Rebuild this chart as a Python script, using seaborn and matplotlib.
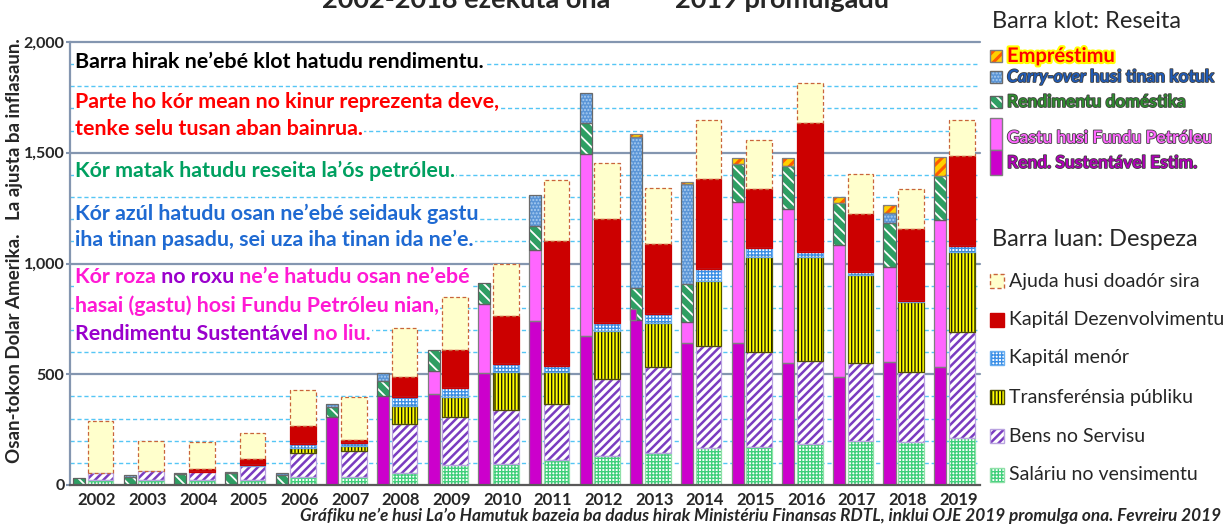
import numpy as np
import pandas as pd
import seaborn as sns
import matplotlib.pyplot as plt
import matplotlib.patheffects as pe
from matplotlib import transforms
from matplotlib.patches import Rectangle

years = list(range(2002, 2020))

# Receipts (narrow bars), US$ million
esi = [0, 0, 0, 0, 0, 307, 402, 411, 506, 740, 673, 795, 641, 641, 551, 488, 555, 533]
pf_withdrawal = [0, 0, 0, 0, 0, 307, 402, 515, 817, 1061, 1494, 745, 736, 1278, 1246, 1084, 986, 1196]
domestic = [30, 36, 50, 54, 45, 45, 68, 94, 95, 109, 140, 144, 171, 171, 195, 189, 199, 199]
carryover = [0, 8, 4, 5, 9, 14, 36, 0, 0, 139, 136, 682, 450, 0, 0, 0, 45, 0]
loans = [0, 0, 0, 0, 0, 0, 0, 0, 0, 0, 0, 14, 11, 27, 35, 28, 32, 86]

# Expenditure (wide bars)
salary = [22, 22, 22, 22, 36, 36, 54, 90, 95, 113, 131, 144, 167, 172, 185, 199, 195, 212]
goods = [33, 41, 38, 64, 108, 117, 221, 217, 244, 253, 348, 389, 461, 429, 375, 352, 315, 479]
transfers = [0, 0, 0, 0, 23, 23, 82, 90, 171, 144, 216, 198, 291, 429, 470, 397, 316, 361]
minor_cap = [0, 0, 0, 6, 18, 14, 41, 41, 36, 27, 38, 40, 56, 40, 22, 14, 4, 27]
dev_cap = [0, 0, 12, 25, 81, 13, 90, 171, 217, 565, 468, 317, 407, 266, 582, 261, 327, 406]
donors = [235, 136, 122, 118, 163, 194, 221, 240, 235, 275, 253, 253, 266, 223, 181, 180, 178, 163]

yticks = [0, 500, 1000, 1500, 2000]
ytick_labels = ['0', '500', '1,000', '1,500', '2,000']

W, H = 1226, 528
sns.set_theme(style='white')
plt.rcParams['font.family'] = ['Lato', 'DejaVu Sans']
plt.rcParams['hatch.linewidth'] = 1.0

fig = plt.figure(figsize=(W / 100, H / 100), dpi=100)
ax = fig.add_axes([70 / W, 43 / H, 910 / W, 443 / H])

# styles: face, hatch, hatch colour, edge colour, edge style, hatch width
styles = {
    'esi': ('#cc00cc', None, None, '#7f7f7f', '-', 1),
    'pink': ('#ff66ff', None, None, '#7f7f7f', '-', 1),
    'dom': ('#2e9e63', '\\\\\\', 'white', '#606060', '-', 1.3),
    'carry': ('#5b95d6', '.....', '#a9cdf2', '#6a6a6a', '-', 1),
    'loan': ('#ffd000', '///', '#ff5a00', '#7f7f7f', '-', 2.2),
    'salary': ('white', '+++++', '#3fcf7a', '#8fe0a8', '-', 1),
    'goods': ('white', '////', '#7a3cc0', '#b9a3e0', '-', 1.8),
    'transfer': ('#ffff00', '|||||', '#222200', '#505000', '-', 1),
    'minor': ('white', '+++++', '#3a8ee6', '#6aaef0', '-', 1),
    'dev': ('#cc0000', None, None, '#cc0000', '-', 1),
    'donor': ('#ffffcc', None, None, '#c8643c', (0, (3, 2)), 1),
}


def set_hlw(patches, lw):
    for p in patches:
        if hasattr(p, 'set_hatch_linewidth'):
            p.set_hatch_linewidth(lw)


def seg(x, h, b, w, key, z=2):
    face, hatch, hcol, edge, ls, hlw = styles[key]
    x, h, b = np.asarray(x), np.asarray(h, float), np.asarray(b, float)
    m = h > 0
    if not m.any():
        return
    bars = ax.bar(x[m], h[m], w, bottom=b[m], color=face, hatch=hatch,
                  edgecolor=hcol if hatch else 'none', linewidth=0, zorder=z, align='center')
    set_hlw(bars, hlw)
    ax.bar(x[m], h[m], w, bottom=b[m], fill=False, edgecolor=edge,
           linewidth=0.9, linestyle=ls, zorder=z + 0.1)


pos = np.arange(len(years))
xr = pos - 0.355
xe = pos + 0.07
wr, we = 0.24, 0.51

esi_a = np.array(esi, float)
pf_a = np.array(pf_withdrawal, float)
low = np.minimum(esi_a, pf_a)
seg(xr, low, 0 * low, wr, 'esi')
seg(xr, pf_a - low, low, wr, 'pink')
b = pf_a.copy()
seg(xr, domestic, b, wr, 'dom')
b += domestic
seg(xr, carryover, b, wr, 'carry')
b += carryover
seg(xr, loans, b, wr, 'loan')
# where the sustainable income is above the actual withdrawal
extra = np.maximum(esi_a - pf_a, 0)
seg(xr - wr / 4, extra, pf_a, wr / 2, 'esi', z=3)

df = pd.DataFrame({'salary': salary, 'goods': goods, 'transfer': transfers,
                   'minor': minor_cap, 'dev': dev_cap, 'donor': donors})
bottoms = df.cumsum(axis=1) - df
for col in df.columns:
    seg(xe, df[col].values, bottoms[col].values, we, col)

# gridlines
for v in range(100, 2001, 100):
    if v % 500 == 0:
        ax.axhline(v, color='#8496b0', lw=1.6, zorder=0.5, clip_on=False)
    else:
        ax.axhline(v, color='#55c6f5', lw=1.0, ls=(0, (3, 2)), zorder=0.5)

ax.set_xlim(-0.533, 17.43)
ax.set_ylim(0, 2000)
ax.set_yticks(yticks)
ax.set_yticklabels(ytick_labels, fontweight='bold', fontsize=11.5)
ax.set_xticks(pos)
ax.set_xticklabels(years, fontweight='bold', fontsize=12)
ax.tick_params(axis='y', direction='out', length=3, width=1.5, color='#8496b0', pad=1, left=True)
ax.tick_params(axis='x', length=0, pad=5)
sns.despine(ax=ax, top=True, right=True)
ax.spines['left'].set_color('#8496b0')
ax.spines['left'].set_linewidth(1.6)
ax.spines['bottom'].set_color('#595959')
ax.spines['bottom'].set_linewidth(1.6)


def fx(px):
    return px / W


def fy(py):
    return 1 - py / H


renderer = fig.canvas.get_renderer()


def multi_text(x, y, parts, **kw):
    tr = fig.transFigure
    for s, c, st in parts:
        t = fig.text(x, y, s, color=c, style=st, transform=tr, **kw)
        ex = t.get_window_extent(renderer=renderer)
        tr = transforms.offset_copy(t.get_transform(), x=ex.width, units='dots')


fig.text(fx(15), fy(251), 'Osan-tokon Dolar Amerika.   La ajusta ba inflasaun.',
         rotation=90, fontweight='bold', fontsize=13.5, ha='center', va='center')

# title (cut off at the top in the original)
fig.text(fx(322), fy(8), '2002-2018 ezekuta ona', fontsize=19.5, fontweight='bold', va='baseline')
fig.text(fx(675), fy(8), '2019 promulgadu', fontsize=19.5, fontweight='bold', va='baseline')

# notes in the plot
box = dict(facecolor='white', edgecolor='none', pad=1)
note = dict(fontsize=15.4, fontweight='bold', va='baseline', bbox=box, zorder=5)
fig.text(fx(75), fy(68), 'Barra hirak ne’ebé klot hatudu rendimentu.', color='black', **note)
fig.text(fx(75), fy(108), 'Parte ho kór mean no kinur reprezenta deve,', color='#ff0000', **note)
fig.text(fx(75), fy(135), 'tenke selu tusan aban bainrua.', color='#ff0000', **note)
fig.text(fx(75), fy(177), 'Kór matak hatudu reseita la’ós petróleu.', color='#00a060', **note)
fig.text(fx(75), fy(220), 'Kór azúl hatudu osan ne’ebé seidauk gastu', color='#1f6ad2', **note)
fig.text(fx(75), fy(246), 'iha tinan pasadu, sei uza iha tinan ida ne’e.', color='#1f6ad2', **note)
multi_text(fx(75), fy(283), [('Kór roza', '#ff19d4', 'normal'), (' no roxu', '#9a00cc', 'normal'),
                             (' ne’e hatudu osan ne’ebé', '#ff19d4', 'normal')], **note)
fig.text(fx(75), fy(312), 'hasai (gastu) hosi Fundu Petróleu nian,', color='#ff19d4', **note)
multi_text(fx(75), fy(340), [('Rendimentu Sustentável', '#9a00cc', 'normal'),
                             (' no liu.', '#ff19d4', 'normal')], **note)

# legend
fig.text(fx(992), fy(22), 'Barra klot: Reseita', fontsize=17, va='center')
fig.text(fx(992), fy(240), 'Barra luan: Despeza', fontsize=17, va='center')


def icon(px, py, w, h, key):
    face, hatch, hcol, edge, ls, hlw = styles[key]
    r = fig.add_artist(Rectangle((fx(px), fy(py + h)), w / W, h / H, facecolor=face, hatch=hatch,
                                 edgecolor=hcol if hatch else 'none', linewidth=0,
                                 transform=fig.transFigure))
    set_hlw([r], hlw)
    fig.add_artist(Rectangle((fx(px), fy(py + h)), w / W, h / H, fill=False, edgecolor=edge,
                             linewidth=1.0, linestyle=ls, transform=fig.transFigure))


thin = [pe.withStroke(linewidth=1.2, foreground='#404040')]
rec = dict(fontsize=12.5, fontweight='bold', va='center')
icon(990, 50, 12, 12, 'loan')
fig.text(fx(1007), fy(56), 'Empréstimu', color='#ff0000', fontsize=14.5, fontweight='bold', va='center',
         path_effects=[pe.withStroke(linewidth=3, foreground='#ffff00')])
icon(990, 71, 12, 12, 'carry')
multi_text(fx(1007), fy(77), [('Carry-over', '#1f5bb8', 'italic'), (' husi tinan kotuk', '#1f5bb8', 'normal')],
           path_effects=thin, **rec)
icon(990, 96, 12, 12, 'dom')
fig.text(fx(1007), fy(102), 'Rendimentu doméstika', color='#2e8b2e', path_effects=thin, **rec)
icon(990, 118, 12, 32, 'pink')
icon(990, 150, 12, 25, 'esi')
fig.text(fx(1007), fy(138), 'Gastu husi Fundu Petróleu', color='#ff66ff', path_effects=thin, **rec)
fig.text(fx(1007), fy(163), 'Rend. Sustentável Estim.', color='#b000b8', path_effects=thin, **rec)

exp_items = [('donor', 'Ajuda husi doadór sira', 281), ('dev', 'Kapitál Dezenvolvimentu', 320),
             ('minor', 'Kapitál menór', 358), ('transfer', 'Transferénsia públiku', 397),
             ('goods', 'Bens no Servisu', 436), ('salary', 'Saláriu no vensimentu', 475)]
for key, label, cy in exp_items:
    icon(990, cy - 7, 14, 14, key)
    fig.text(fx(1009), fy(cy), label, fontsize=14, va='center')

fig.text(fx(1221), fy(521),
         'Gráfiku ne’e husi La’o Hamutuk bazeia ba dadus hirak Ministériu Finansas RDTL, '
         'inklui OJE 2019 promulga ona. Fevreiru 2019',
         fontsize=12.4, fontweight='bold', style='italic', ha='right', va='baseline')

fig.savefig('out.png', dpi=100)
